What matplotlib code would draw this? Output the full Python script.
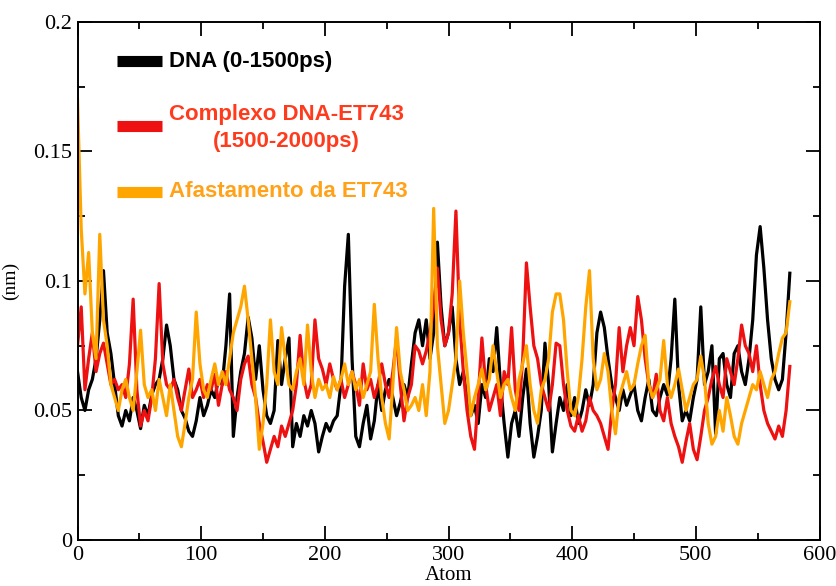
import numpy as np
import matplotlib
matplotlib.use("Agg")
import matplotlib.pyplot as plt
from matplotlib.ticker import MultipleLocator, FixedLocator

# Atom index sampled every third atom
atoms = np.arange(0, 577, 3)

dna = [
    0.065, 0.055, 0.050, 0.058, 0.062, 0.070, 0.085, 0.104, 0.080, 0.072,
    0.060, 0.048, 0.044, 0.050, 0.046, 0.055, 0.050, 0.043, 0.052, 0.048,
    0.056, 0.060, 0.062, 0.070, 0.083, 0.075, 0.062, 0.058, 0.050, 0.047,
    0.042, 0.040, 0.046, 0.055, 0.048, 0.052, 0.058, 0.055, 0.062, 0.060,
    0.075, 0.095, 0.040, 0.055, 0.065, 0.072, 0.086, 0.078, 0.062, 0.075,
    0.058, 0.048, 0.045, 0.050, 0.077, 0.060, 0.070, 0.078, 0.036, 0.045,
    0.040, 0.048, 0.044, 0.050, 0.045, 0.034, 0.040, 0.045, 0.042, 0.046,
    0.048, 0.060, 0.098, 0.118, 0.070, 0.040, 0.036, 0.045, 0.052, 0.039,
    0.046, 0.060, 0.050, 0.058, 0.062, 0.055, 0.048, 0.053, 0.060, 0.055,
    0.068, 0.080, 0.085, 0.075, 0.085, 0.070, 0.080, 0.115, 0.090, 0.075,
    0.080, 0.090, 0.070, 0.060, 0.065, 0.055, 0.048, 0.052, 0.045, 0.060,
    0.055, 0.070, 0.065, 0.082, 0.060, 0.045, 0.032, 0.045, 0.050, 0.040,
    0.055, 0.066, 0.045, 0.032, 0.040, 0.050, 0.076, 0.060, 0.034, 0.045,
    0.055, 0.050, 0.060, 0.048, 0.055, 0.045, 0.050, 0.058, 0.052, 0.060,
    0.080, 0.088, 0.082, 0.070, 0.060, 0.055, 0.050, 0.058, 0.052, 0.056,
    0.060, 0.050, 0.046, 0.055, 0.062, 0.050, 0.048, 0.055, 0.060, 0.056,
    0.070, 0.093, 0.060, 0.046, 0.050, 0.046, 0.055, 0.062, 0.090, 0.060,
    0.065, 0.075, 0.041, 0.070, 0.072, 0.060, 0.055, 0.072, 0.075, 0.065,
    0.060, 0.070, 0.085, 0.110, 0.121, 0.105, 0.085, 0.070, 0.062, 0.058,
    0.062, 0.080, 0.103,
]

complexo = [
    0.075, 0.090, 0.058, 0.070, 0.080, 0.065, 0.072, 0.076, 0.068, 0.060,
    0.062, 0.058, 0.060, 0.055, 0.068, 0.093, 0.058, 0.044, 0.050, 0.046,
    0.055, 0.070, 0.099, 0.068, 0.060, 0.058, 0.062, 0.055, 0.050, 0.058,
    0.066, 0.055, 0.058, 0.062, 0.055, 0.060, 0.058, 0.064, 0.052, 0.060,
    0.065, 0.058, 0.055, 0.050, 0.062, 0.068, 0.071, 0.060, 0.055, 0.045,
    0.038, 0.030, 0.035, 0.040, 0.036, 0.044, 0.040, 0.045, 0.050, 0.060,
    0.079, 0.062, 0.055, 0.060, 0.085, 0.070, 0.066, 0.060, 0.068, 0.062,
    0.058, 0.062, 0.055, 0.060, 0.065, 0.060, 0.052, 0.068, 0.058, 0.062,
    0.055, 0.060, 0.068, 0.060, 0.055, 0.065, 0.078, 0.060, 0.046, 0.055,
    0.060, 0.075, 0.073, 0.068, 0.073, 0.080, 0.090, 0.105, 0.085, 0.075,
    0.080, 0.095, 0.127, 0.085, 0.065, 0.050, 0.040, 0.035, 0.055, 0.078,
    0.060, 0.050, 0.055, 0.060, 0.048, 0.065, 0.060, 0.082, 0.058, 0.050,
    0.070, 0.107, 0.090, 0.075, 0.070, 0.060, 0.055, 0.050, 0.060, 0.076,
    0.075, 0.060, 0.050, 0.044, 0.042, 0.048, 0.042, 0.046, 0.055, 0.050,
    0.048, 0.045, 0.040, 0.035, 0.050, 0.060, 0.082, 0.065, 0.075, 0.082,
    0.075, 0.094, 0.085, 0.070, 0.060, 0.055, 0.064, 0.050, 0.046, 0.055,
    0.045, 0.040, 0.036, 0.030, 0.038, 0.045, 0.035, 0.031, 0.040, 0.050,
    0.055, 0.062, 0.067, 0.060, 0.055, 0.070, 0.065, 0.060, 0.070, 0.083,
    0.075, 0.072, 0.065, 0.075, 0.060, 0.050, 0.045, 0.042, 0.039, 0.044,
    0.040, 0.050, 0.067,
]

afastamento = [
    0.170, 0.120, 0.095, 0.111, 0.080, 0.070, 0.118, 0.085, 0.075, 0.060,
    0.055, 0.050, 0.058, 0.062, 0.055, 0.050, 0.065, 0.081, 0.060, 0.055,
    0.058, 0.050, 0.062, 0.055, 0.048, 0.060, 0.050, 0.040, 0.036, 0.045,
    0.055, 0.062, 0.088, 0.068, 0.058, 0.055, 0.062, 0.068, 0.060, 0.065,
    0.060, 0.070, 0.080, 0.085, 0.090, 0.098, 0.085, 0.070, 0.055, 0.035,
    0.045, 0.060, 0.085, 0.065, 0.060, 0.082, 0.070, 0.060, 0.058, 0.065,
    0.070, 0.060, 0.083, 0.065, 0.055, 0.062, 0.058, 0.060, 0.055, 0.063,
    0.058, 0.062, 0.068, 0.060, 0.065, 0.058, 0.062, 0.055, 0.060, 0.065,
    0.091, 0.070, 0.055, 0.045, 0.039, 0.060, 0.082, 0.065, 0.058, 0.050,
    0.052, 0.055, 0.050, 0.060, 0.048, 0.065, 0.128, 0.075, 0.060, 0.045,
    0.050, 0.060, 0.070, 0.100, 0.080, 0.065, 0.048, 0.055, 0.060, 0.066,
    0.058, 0.062, 0.075, 0.065, 0.055, 0.060, 0.062, 0.055, 0.050, 0.062,
    0.068, 0.075, 0.060, 0.050, 0.045, 0.058, 0.062, 0.070, 0.088, 0.095,
    0.095, 0.085, 0.065, 0.050, 0.048, 0.055, 0.070, 0.090, 0.104, 0.070,
    0.058, 0.062, 0.072, 0.065, 0.050, 0.041, 0.055, 0.060, 0.065, 0.058,
    0.060, 0.068, 0.075, 0.079, 0.060, 0.055, 0.058, 0.062, 0.077, 0.060,
    0.055, 0.060, 0.066, 0.058, 0.050, 0.055, 0.060, 0.062, 0.071, 0.062,
    0.045, 0.037, 0.040, 0.050, 0.042, 0.055, 0.048, 0.040, 0.037, 0.045,
    0.050, 0.055, 0.060, 0.058, 0.065, 0.060, 0.055, 0.062, 0.065, 0.072,
    0.078, 0.080, 0.092,
]

labels = ["DNA (0-1500ps)", "Complexo DNA-ET743\n(1500-2000ps)", "Afastamento da ET743"]
line_colors = ["#000000", "#ee1111", "#ffa500"]
text_colors = ["#000000", "#ff3b1e", "#ffa21a"]

xticks = [0, 100, 200, 300, 400, 500, 600]
yticks = [0, 0.05, 0.1, 0.15, 0.2]
ytick_labels = ["0", "0.05", "0.1", "0.15", "0.2"]

fig = plt.figure(figsize=(8.37, 5.86), dpi=100)
ax = fig.add_axes([0.0926, 0.0785, 0.8865, 0.884])

for series, col in zip([dna, complexo, afastamento], line_colors):
    ax.plot(atoms, series, color=col, lw=2.3)

ax.set_xlim(0, 600)
ax.set_ylim(0, 0.2)

serif = "Liberation Serif"
ax.xaxis.set_major_locator(FixedLocator(xticks))
ax.xaxis.set_minor_locator(MultipleLocator(50))
ax.yaxis.set_major_locator(FixedLocator(yticks))
ax.yaxis.set_minor_locator(MultipleLocator(0.025))
ax.set_xticklabels([str(t) for t in xticks], fontfamily=serif, fontsize=16)
ax.set_yticklabels(ytick_labels, fontfamily=serif, fontsize=16)
ax.tick_params(which="both", direction="in", top=True, right=True, width=1.3, pad=4)
ax.tick_params(which="major", length=10)
ax.tick_params(which="minor", length=5)
for sp in ax.spines.values():
    sp.set_linewidth(1.4)

ax.set_xlabel("Atom", fontfamily=serif, fontsize=15, labelpad=1)
ax.set_ylabel("(nm)", fontfamily=serif, fontsize=14, labelpad=10)

# Legend: thick bars with coloured bold captions
bar_y = [0.1848, 0.1600, 0.1345]
text_y = [0.1848, 0.1590, 0.1345]
for yb, ty, lab, lc, tc in zip(bar_y, text_y, labels, line_colors, text_colors):
    ax.plot([32, 68], [yb, yb], color=lc, lw=8, solid_capstyle="butt")
    ax.text(74, ty, lab, color=tc, fontsize=16, fontweight="bold",
            fontfamily="Liberation Sans", va="center", ha="left",
            multialignment="center", linespacing=1.4)

fig.savefig("out.png", dpi=100)
